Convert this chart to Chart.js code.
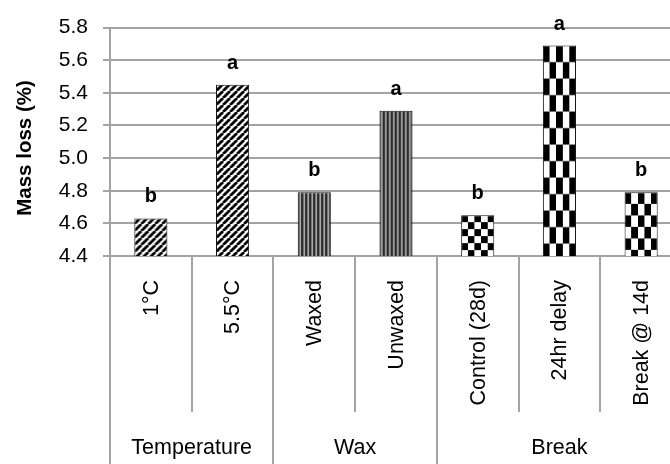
<!DOCTYPE html>
<html>
<head>
<meta charset="utf-8">
<script src="https://cdn.jsdelivr.net/npm/chart.js@4.4.1/dist/chart.umd.min.js"></script>
<style>
	html, body { margin: 0; padding: 0; background: #fff; overflow: hidden; }
	#wrap { width: 690px; height: 464px; position: relative; }
</style>
</head>
<body>
<div id="wrap"><canvas id="chart1"></canvas></div>
<script>
const categories = ['1°C', '5.5°C', 'Waxed', 'Unwaxed', 'Control (28d)', '24hr delay', 'Break @ 14d']
const massLoss = [4.63, 5.45, 4.79, 5.29, 4.65, 5.69, 4.79]
const letters = ['b', 'a', 'b', 'a', 'b', 'a', 'b']
const groupNames = ['Temperature', 'Wax', 'Break']
const groupSizes = [2, 2, 3]
const yMin = 4.4
const yMax = 5.8
const yStep = 0.2

// fill style of each bar (kind, row height of the checks)
const barFills = [
	{ kind: 'diag' },
	{ kind: 'diag' },
	{ kind: 'vert' },
	{ kind: 'vert' },
	{ kind: 'check', rowH: 7 },
	{ kind: 'check', rowH: 16.5 },
	{ kind: 'check', rowH: 11.5 },
]

const FONT = '"Liberation Sans", Arial, sans-serif'
const BAR_PCT = 0.405
const gridGray = '#a3a3a3'

function diagTile() {
	const s = 7
	const c = document.createElement('canvas')
	c.width = s
	c.height = s
	const g = c.getContext('2d')
	g.fillStyle = '#fff'
	g.fillRect(0, 0, s, s)
	g.strokeStyle = '#000'
	g.lineWidth = 2.8
	g.beginPath()
	for (const k of [-s, 0, s]) {
		g.moveTo(k, s)
		g.lineTo(k + s, 0)
	}
	g.stroke()
	return c
}

function vertTile() {
	const c = document.createElement('canvas')
	c.width = 4
	c.height = 1
	const g = c.getContext('2d')
	const cols = ['#222', '#555', '#d0d0d0', '#3a3a3a']
	cols.forEach((col, i) => {
		g.fillStyle = col
		g.fillRect(i, 0, 1, 1)
	})
	return c
}

function checkTile() {
	const c = document.createElement('canvas')
	c.width = 20
	c.height = 20
	const g = c.getContext('2d')
	g.fillStyle = '#fff'
	g.fillRect(0, 0, 20, 20)
	g.fillStyle = '#000'
	g.fillRect(0, 0, 10, 10)
	g.fillRect(10, 10, 10, 10)
	return c
}

const tiles = { diag: diagTile(), vert: vertTile(), check: checkTile() }

function barPattern(ctx) {
	if (ctx.type !== 'data') return '#000'
	const chart = ctx.chart
	const xs = chart.scales.x
	const ys = chart.scales.y
	const fill = barFills[ctx.dataIndex]
	const pat = chart.ctx.createPattern(tiles[fill.kind], 'repeat')
	if (!xs || !ys) return pat
	const cw = xs.width / categories.length
	const bw = cw * BAR_PCT
	const left = xs.getPixelForValue(ctx.dataIndex) - bw / 2
	const top = ys.getPixelForValue(massLoss[ctx.dataIndex])
	if (fill.kind === 'check') {
		const colW = bw / 5
		pat.setTransform(new DOMMatrix().translate(left, top).scale(colW / 10, fill.rowH / 10))
	} else {
		pat.setTransform(new DOMMatrix().translate(left, 0))
	}
	return pat
}

const extras = {
	id: 'extras',
	afterDraw(chart) {
		const ctx = chart.ctx
		const area = chart.chartArea
		const xs = chart.scales.x
		const n = categories.length
		const cw = xs.width / n
		const bottom = chart.height

		// separators under the axis
		const groupEnds = []
		let acc = 0
		groupSizes.forEach(s => {
			acc += s
			groupEnds.push(acc)
		})
		ctx.save()
		ctx.strokeStyle = gridGray
		ctx.lineWidth = 2
		for (let i = 0; i <= n; i++) {
			const bx = Math.round(xs.left + i * cw)
			const isGroup = i === 0 || groupEnds.includes(i)
			ctx.beginPath()
			ctx.moveTo(bx, area.bottom)
			ctx.lineTo(bx, isGroup ? bottom : area.bottom + 156)
			ctx.stroke()
		}

		// rotated category labels
		ctx.fillStyle = '#000'
		ctx.font = '21.5px ' + FONT
		categories.forEach((lab, i) => {
			ctx.save()
			ctx.translate(xs.getPixelForValue(i), area.bottom + 24)
			ctx.rotate(-Math.PI / 2)
			ctx.textAlign = 'right'
			ctx.textBaseline = 'middle'
			ctx.fillText(lab, 0, 1)
			ctx.restore()
		})

		// group labels
		ctx.textAlign = 'center'
		ctx.textBaseline = 'middle'
		let start = 0
		groupNames.forEach((name, gi) => {
			const end = start + groupSizes[gi]
			const cx = xs.left + ((start + end) / 2) * cw
			ctx.fillText(name, cx, 448)
			start = end
		})

		// significance letters
		const meta = chart.getDatasetMeta(0)
		ctx.font = 'bold 20px ' + FONT
		ctx.textBaseline = 'alphabetic'
		meta.data.forEach((bar, i) => {
			ctx.fillText(letters[i], bar.x, bar.y - 16)
		})

		// axis title
		ctx.save()
		ctx.translate(25, 148)
		ctx.rotate(-Math.PI / 2)
		ctx.textAlign = 'center'
		ctx.textBaseline = 'middle'
		ctx.font = 'bold 20.5px ' + FONT
		ctx.fillText('Mass loss (%)', 0, 0)
		ctx.restore()
		ctx.restore()
	},
}

const chartData = {
	labels: categories,
	datasets: [
		{
			data: massLoss,
			backgroundColor: barPattern,
			borderColor: '#111',
			borderWidth: 1,
			categoryPercentage: 1,
			barPercentage: BAR_PCT,
		},
	],
}

const optionsData = {
	responsive: true,
	maintainAspectRatio: false,
	animation: false,
	layout: { padding: { top: 17, right: 8, left: 0, bottom: 0 } },
	plugins: {
		legend: { display: false },
		tooltip: { enabled: false },
	},
	scales: {
		x: {
			ticks: { display: false },
			grid: { display: false },
			border: { display: false },
			afterFit: scale => {
				scale.height = 208
			},
		},
		y: {
			min: yMin,
			max: yMax,
			ticks: {
				stepSize: yStep,
				padding: 15,
				color: '#000',
				font: { size: 21, family: FONT },
				callback: v => v.toFixed(1),
			},
			grid: {
				color: gridGray,
				lineWidth: 2,
				tickLength: 7,
			},
			border: { color: gridGray, width: 2 },
			afterFit: scale => {
				scale.width = 110
			},
		},
	},
}

new Chart('chart1', { type: 'bar', data: chartData, options: optionsData, plugins: [extras] })
</script>
</body>
</html>
